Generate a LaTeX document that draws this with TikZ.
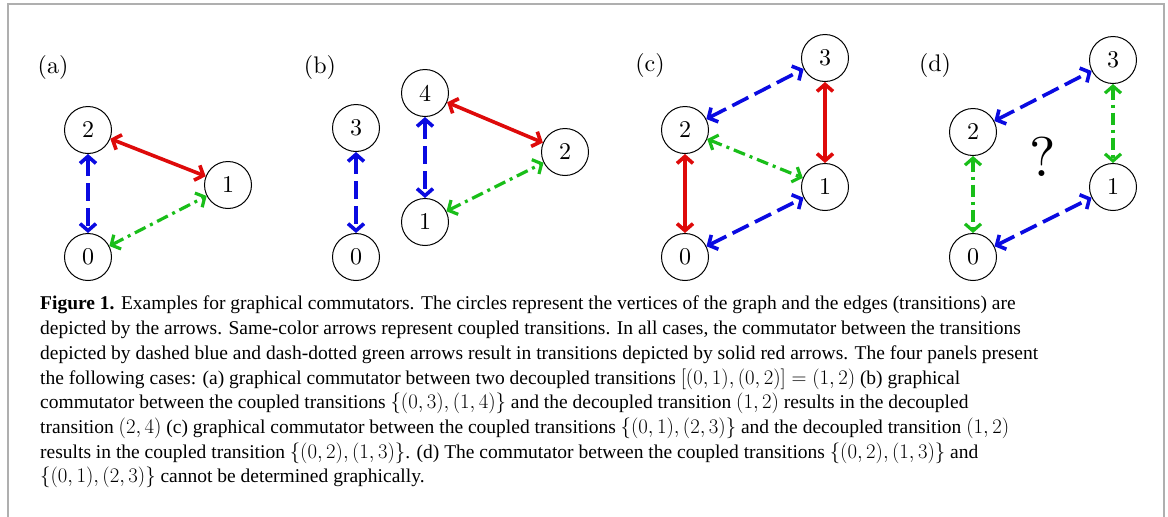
\documentclass[tikz,border=0pt]{standalone}
\usepackage{amsmath}
\usepackage{fontspec}
\newfontfamily\capfont{Liberation Serif}
\newfontfamily\numfont{lmroman10-regular.otf}
\usepackage{tikz}
\usetikzlibrary{arrows.meta, positioning}
\definecolor{edgered}{RGB}{222, 10, 10}
\definecolor{edgeblue}{RGB}{10, 10, 225}
\definecolor{edgegreen}{RGB}{25, 190, 25}
\definecolor{framegray}{RGB}{175, 175, 175}
\tikzset{
  vertex/.style={circle, draw=black, line width=1pt, minimum size=47pt, inner sep=0pt, font=\numfont\fontsize{24}{24}\selectfont},
  panellabel/.style={font=\numfont\fontsize{24}{28}\selectfont, inner sep=0pt},
  tips/.style={{Straight Barb[length=7pt, width=16pt]}-{Straight Barb[length=7pt, width=16pt]}},
  redarrow/.style={tips, edgered, line width=3.6pt},
  bluearrow/.style={tips, edgeblue, line width=3.6pt, dash pattern=on 18pt off 7pt},
  greenarrow/.style={tips, edgegreen, line width=3.2pt, dash pattern=on 12pt off 5pt on 3pt off 5pt}
}

\begin{document}
\begin{tikzpicture}[x=1pt, y=-1pt]

    \useasboundingbox (0,0) rectangle (1168,517);

    % 0. Marco
    \draw[framegray, line width=1.5pt] (8,517) -- (8,4) -- (1164,4) -- (1164,517);

    % 1. Etiquetas de los paneles
    \foreach \p/\x/\y in {a/53/67, b/320/67, c/650/65, d/935/65} {
        \node[panellabel] (lab\p) at (\x,\y) {(\p)};
    }

    % 2. Panel (a)
    \node[vertex] (a2) at (88,130) {2};
    \node[vertex] (a1) at (228,185) {1};
    \node[vertex] (a0) at (88,257) {0};
    \draw[redarrow] (a2) -- (a1);
    \draw[bluearrow] (a2) -- (a0);
    \draw[greenarrow] (a0) -- (a1);

    % 3. Panel (b)
    \node[vertex] (b3) at (356,128) {3};
    \node[vertex] (b0) at (356,257) {0};
    \node[vertex] (b4) at (425,93) {4};
    \node[vertex] (b1) at (425,222) {1};
    \node[vertex] (b2) at (565,152) {2};
    \draw[bluearrow] (b3) -- (b0);
    \draw[bluearrow] (b4) -- (b1);
    \draw[redarrow] (b4) -- (b2);
    \draw[greenarrow] (b1) -- (b2);

    % 4. Panel (c)
    \node[vertex] (c3) at (825,58) {3};
    \node[vertex] (c2) at (685,130) {2};
    \node[vertex] (c1) at (825,187) {1};
    \node[vertex] (c0) at (685,257) {0};
    \draw[bluearrow] (c2) -- (c3);
    \draw[redarrow] (c3) -- (c1);
    \draw[greenarrow] (c2) -- (c1);
    \draw[redarrow] (c2) -- (c0);
    \draw[bluearrow] (c0) -- (c1);

    % 5. Panel (d)
    \node[vertex] (d3) at (1113,60) {3};
    \node[vertex] (d2) at (973,132) {2};
    \node[vertex] (d1) at (1113,187) {1};
    \node[vertex] (d0) at (973,257) {0};
    \draw[bluearrow] (d2) -- (d3);
    \draw[greenarrow] (d3) -- (d1);
    \draw[greenarrow] (d2) -- (d0);
    \draw[bluearrow] (d0) -- (d1);
    \node[font=\numfont\fontsize{56}{56}\selectfont, inner sep=0pt] (qmark) at (1043,157) {?};

    % 6. Pie de figura
    \node[anchor=north west, inner sep=0pt, align=left, font=\capfont\fontsize{19.5}{24.7}\selectfont] (caption) at (40,296) {%
        \textbf{Figure 1.} Examples for graphical commutators. The circles represent the vertices of the graph and the edges (transitions) are\\
        depicted by the arrows. Same-color arrows represent coupled transitions. In all cases, the commutator between the transitions\\
        depicted by dashed blue and dash-dotted green arrows result in transitions depicted by solid red arrows. The four panels present\\
        the following cases: (a) graphical commutator between two decoupled transitions $[(0,1),(0,2)]=(1,2)$ (b) graphical\\
        commutator between the coupled transitions $\{(0,3),(1,4)\}$ and the decoupled transition $(1,2)$ results in the decoupled\\
        transition $(2,4)$ (c) graphical commutator between the coupled transitions $\{(0,1),(2,3)\}$ and the decoupled transition $(1,2)$\\
        results in the coupled transition $\{(0,2),(1,3)\}$. (d) The commutator between the coupled transitions $\{(0,2),(1,3)\}$ and\\
        $\{(0,1),(2,3)\}$ cannot be determined graphically.};

\end{tikzpicture}
\end{document}
